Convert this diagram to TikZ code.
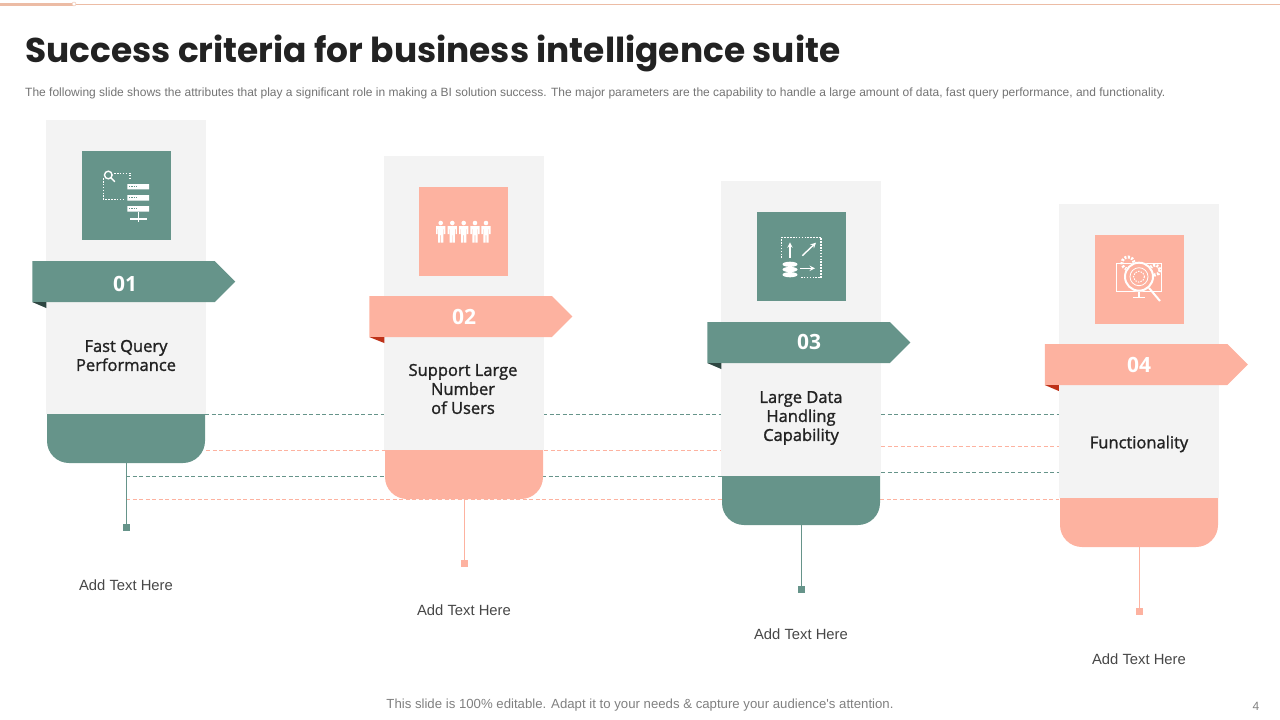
\documentclass[tikz,border=0pt]{standalone}
\usepackage{xcolor}
\usepackage{fontspec}
\setmainfont{Open Sans}
\newfontfamily\semifont{Open Sans}[FakeBold=1.4]
\newfontfamily\arialfont{Liberation Sans}
\newfontfamily\titlefont{Poppins}
\usetikzlibrary{shapes.symbols, positioning, backgrounds}
\definecolor{sagegreen}{RGB}{102,148,138}
\definecolor{salmonpink}{RGB}{253,178,160}
\definecolor{cardbg}{RGB}{243,243,243}
\definecolor{foldgreen}{RGB}{45,70,65}
\definecolor{foldred}{RGB}{190,50,25}
\definecolor{inkdark}{RGB}{34,34,34}
\definecolor{topline}{RGB}{236,188,165}
\tikzset{
  card/.style={rectangle, fill=cardbg, minimum width=160pt, minimum height=294pt, inner sep=0pt, outer sep=0pt},
  band/.style={rectangle, minimum width=158pt, minimum height=49pt, inner sep=0pt, outer sep=0pt},
  iconbox/.style={rectangle, minimum width=89pt, minimum height=89pt, inner sep=0pt, outer sep=0pt},
  flag/.style={signal, signal to=east, signal pointer angle=90, minimum width=203pt, minimum height=41pt,
    inner sep=0pt, outer sep=0pt},
  flagnum/.style={text=white, font=\fontsize{21}{24}\selectfont\bfseries},
  cardtext/.style={align=center, text=inkdark, font=\fontsize{16.5}{19}\selectfont\semifont},
  addtext/.style={text=black!72, font=\fontsize{14.8}{17}\selectfont\arialfont},
  endmark/.style={rectangle, minimum width=7pt, minimum height=7pt, inner sep=0pt, outer sep=0pt},
  stem/.style={line width=1pt},
  dashline/.style={line width=0.9pt, dash pattern=on 4pt off 2.5pt},
  icon/.style={white, line width=1.4pt},
  dots/.style={white, line width=1.5pt, dash pattern=on 1.6pt off 1.3pt},
  person/.pic={
    \fill[white] (0,-9) circle (2.3);
    \fill[white] (-4.6,-6) -- (4.6,-6) -- (4.6,2) -- (3.2,2) -- (3.2,-3) -- (2.6,-3) -- (2.6,10.5) -- (0.3,10.5) -- (0.3,3) -- (-0.3,3)
      -- (-0.3,10.5) -- (-2.6,10.5) -- (-2.6,-3) -- (-3.2,-3) -- (-3.2,2) -- (-4.6,2) -- cycle;
  },
}
\begin{document}
\begin{tikzpicture}[x=1pt, y=-1pt]
  \useasboundingbox (0,0) rectangle (1280,720);

  \draw[topline, line width=1pt] (0,4) -- (1280,4);
  \draw[topline, line width=3pt] (0,4) -- (74,4);
  \node[circle, draw=topline, fill=white, minimum size=4pt, inner sep=0pt] (topdot) at (74,4) {};

  \node[anchor=west, inner sep=0pt, text=inkdark, font=\fontsize{34.4}{40}\selectfont\titlefont\bfseries] (title) at (25,53)
    {Success criteria for business intelligence suite};
  \node[anchor=west, inner sep=0pt, text=black!55, font=\fontsize{12}{14}\selectfont\arialfont] (subtitle) at (25,93)
    {The following slide shows the attributes that play a significant role in making a BI solution success. The major parameters are the capability to handle a large amount of data, fast query performance, and functionality.};

  \node[card] (card1) at (126,267) {};
  \node[card] (card2) at (464,303) {};
  \node[card, minimum height=295pt] (card3) at (801,328.5) {};
  \node[card] (card4) at (1139,351) {};

  \node[band, below=0pt of card1.south] (band1) {};
  \node[band, below=0pt of card2.south] (band2) {};
  \node[band, below=0pt of card3.south] (band3) {};
  \node[band, below=0pt of card4.south] (band4) {};
  \fill[sagegreen] (band1.north west) [rounded corners=22pt] -- (band1.south west) -- (band1.south east) [sharp corners] -- (band1.north east) -- cycle;
  \fill[salmonpink] (band2.north west) [rounded corners=22pt] -- (band2.south west) -- (band2.south east) [sharp corners] -- (band2.north east) -- cycle;
  \fill[sagegreen] (band3.north west) [rounded corners=22pt] -- (band3.south west) -- (band3.south east) [sharp corners] -- (band3.north east) -- cycle;
  \fill[salmonpink] (band4.north west) [rounded corners=22pt] -- (band4.south west) -- (band4.south east) [sharp corners] -- (band4.north east) -- cycle;

  \node[iconbox, fill=sagegreen, below=31pt of card1.north] (box1) {};
  \node[iconbox, fill=salmonpink, below=31pt of card2.north, xshift=-0.8pt] (box2) {};
  \node[iconbox, fill=sagegreen, below=31pt of card3.north] (box3) {};
  \node[iconbox, fill=salmonpink, below=31pt of card4.north] (box4) {};

  \node[flag, fill=sagegreen] (flag1) at (123.5,281.5) {};
  \node[flag, fill=salmonpink] (flag2) at (460.5,316.5) {};
  \node[flag, fill=sagegreen] (flag3) at (798.5,342.5) {};
  \node[flag, fill=salmonpink] (flag4) at (1136,364.5) {};
  \fill[foldgreen] (flag1.south west) -- ++(14,0) -- ++(0,6) -- cycle;
  \fill[foldred] (flag2.south west) -- ++(15,0) -- ++(0,6) -- cycle;
  \fill[foldgreen] (flag3.south west) -- ++(14,0) -- ++(0,6) -- cycle;
  \fill[foldred] (flag4.south west) -- ++(14,0) -- ++(0,6) -- cycle;

  \node[flagnum] (num1) at (125,283.5) {01};
  \node[flagnum] (num2) at (464,317) {02};
  \node[flagnum] (num3) at (809,342) {03};
  \node[flagnum] (num4) at (1139,365) {04};

  \node[cardtext] (text1) at (126,355.5) {Fast Query\\Performance};
  \node[cardtext] (text2) at (463,389) {Support Large\\Number\\of Users};
  \node[cardtext] (text3) at (801,418) {Large Data\\Handling\\Capability};
  \node[cardtext] (text4) at (1139,444) {Functionality};

  \node[endmark, fill=sagegreen, below=61pt of band1.south] (mark1) {};
  \node[endmark, fill=salmonpink, below=61pt of band2.south] (mark2) {};
  \node[endmark, fill=sagegreen, below=61pt of band3.south] (mark3) {};
  \node[endmark, fill=salmonpink, below=61pt of band4.south] (mark4) {};
  \draw[stem, sagegreen] (band1.south) -- (mark1);
  \draw[stem, salmonpink] (band2.south) -- (mark2);
  \draw[stem, sagegreen] (band3.south) -- (mark3);
  \draw[stem, salmonpink] (band4.south) -- (mark4);

  \node[addtext, below=45pt of mark1] (add1) {Add Text Here};
  \node[addtext, below=34pt of mark2] (add2) {Add Text Here};
  \node[addtext, below=32pt of mark3] (add3) {Add Text Here};
  \node[addtext, below=35pt of mark4] (add4) {Add Text Here};

  \coordinate (gapone) at (881,446);
  \coordinate (gaptwo) at (881,472);
  \begin{scope}[on background layer]
    \draw[dashline, sagegreen] (band1.north east) -- (card4.west |- band1.north east);
    \draw[dashline, salmonpink] (card1.east |- band2.north) -- (card3.west |- band2.north);
    \draw[dashline, sagegreen] (band1.south |- band3.north) -- (band3.north west);
    \draw[dashline, salmonpink] (band1.south |- band2.south) -- (card4.west |- band2.south);
    \draw[dashline, salmonpink] (gapone) -- (card4.west |- gapone);
    \draw[dashline, sagegreen] (gaptwo) -- (card4.west |- gaptwo);
  \end{scope}

  % icon 1
  \draw[icon] (108.3,175) circle (3.8) (111,177.8) -- (114.8,181.8);
  \draw[dots] (114,173.3) -- (130,173.3) -- (130,180);
  \draw[dots] (103.3,178) -- (103.3,199.3) -- (123.3,199.3);
  \fill[white] (127.3,184) rectangle (149,189.3) (127.3,195) rectangle (149,200.7) (127.3,206) rectangle (149,211.7);
  \draw[sagegreen, line width=1pt, dash pattern=on 1.3pt off 1pt] (129,186.7) -- (137,186.7) (129,197.8) -- (137,197.8) (129,208.8) -- (137,208.8);
  \draw[icon] (138.3,211.7) -- (138.3,221.7) (130,219) -- (146.7,219);

  % icon 2
  \pic at (440.7,232) {person};
  \pic at (452.3,232) {person};
  \pic at (463.7,232) {person};
  \pic at (475,232) {person};
  \pic at (486,232) {person};

  % icon 3
  \draw[dots] (781.7,258) -- (781.7,237.3) -- (821,237.3) -- (821,277.7) -- (800,277.7);
  \draw[icon, -stealth] (790,258) -- (790,242.3);
  \draw[icon, -stealth] (802.3,255.7) -- (816,242.7);
  \draw[icon, -stealth] (800,268.3) -- (815,268.3);
  \fill[white] (790,264.3) ellipse (7.5 and 2.6) (790,269.5) ellipse (7.5 and 2.6) (790,274.7) ellipse (7.5 and 2.6);

  % icon 4
  \draw[white, line width=0.8pt] (1116,263.3) rectangle (1161.7,291.7);
  \draw[white, line width=1.5pt] (1139,291.7) -- (1139,297) (1133,297.5) -- (1145,297.5);
  \draw[white, line width=3pt, dash pattern=on 2pt off 1.5pt] (1128,263) circle (6) (1155,270) circle (5);
  \fill[salmonpink] (1139,276.7) circle (15);
  \draw[white, line width=2pt] (1139,276.7) circle (14);
  \draw[white, line width=0.8pt] (1139,276.7) circle (9);
  \draw[white, line width=1pt, dash pattern=on 1.5pt off 1.2pt] (1139,276.7) circle (5.5);
  \draw[white, line width=2pt] (1149,288) -- (1160,301);

  \node[text=black!50, font=\fontsize{13.2}{15}\selectfont\arialfont] (footer) at (640,705.5)
    {This slide is 100\% editable. Adapt it to your needs \& capture your audience's attention.};
  \node[text=black!50, font=\fontsize{12}{14}\selectfont\arialfont] (pagenum) at (1256,706) {4};
\end{tikzpicture}
\end{document}
